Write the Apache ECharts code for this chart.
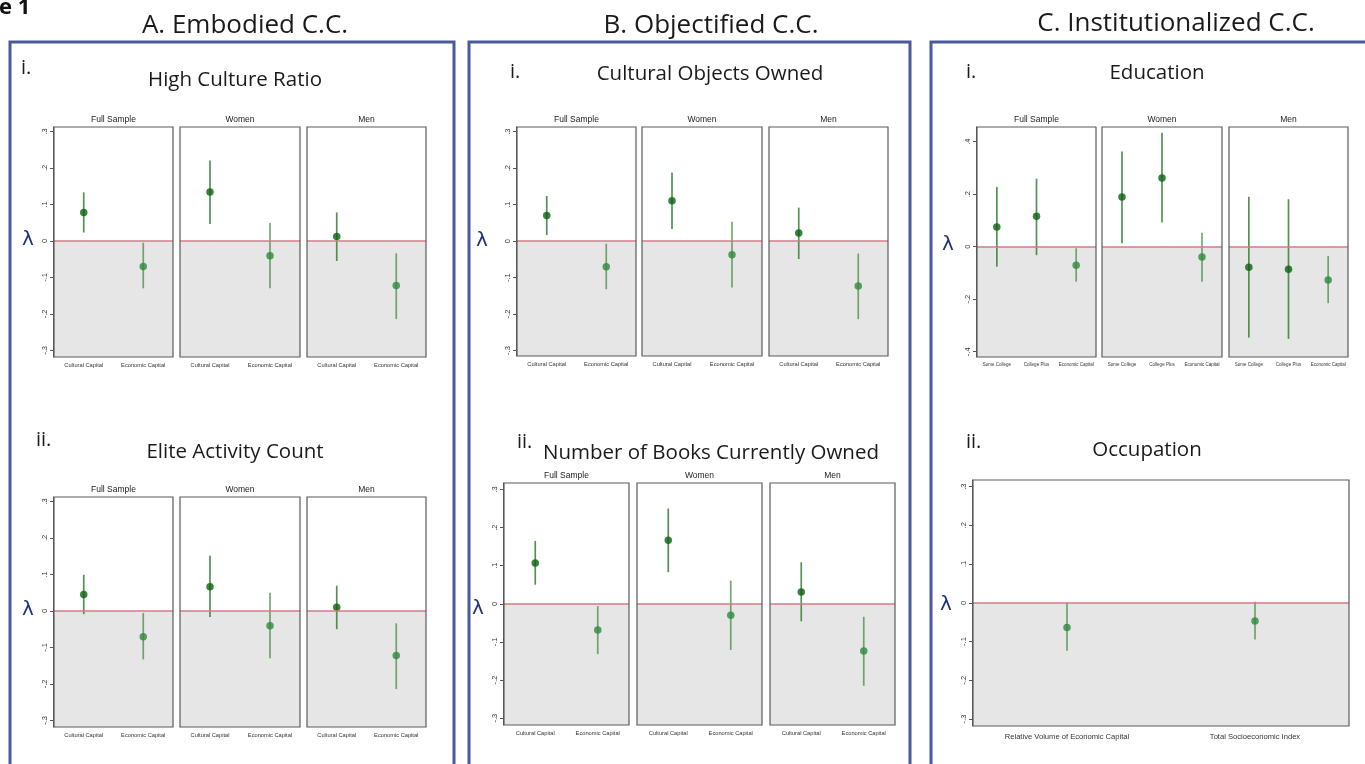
<!DOCTYPE html>
<html>
<head>
<meta charset="utf-8">
<script src="https://cdn.jsdelivr.net/npm/echarts@6/dist/echarts.min.js"></script>
<style>
html,body{margin:0;padding:0;background:#fff;}
#chart{width:1365px;height:764px;}
</style>
</head>
<body>
<div id="chart"></div>
<script>
// ---------------- DATA ----------------
const facets = ['Full Sample', 'Women', 'Men'];
const capCats = ['Cultural Capital', 'Economic Capital'];
const eduCats = ['Some College', 'College Plus', 'Economic Capital'];
const occCats = ['Relative Volume of Economic Capital', 'Total Socioeconomic Index'];

const ticks3 = [-0.3, -0.2, -0.1, 0, 0.1, 0.2, 0.3];
const ticks4 = [-0.4, -0.2, 0, 0.2, 0.4];

// A.i High Culture Ratio (per facet: estimate, lower CI, upper CI)
const hcrEst = [[0.078, -0.070], [0.134, -0.041], [0.012, -0.122]];
const hcrLo  = [[0.023, -0.130], [0.046, -0.130], [-0.055, -0.214]];
const hcrHi  = [[0.133, -0.005], [0.220, 0.049], [0.078, -0.034]];

// A.ii Elite Activity Count
const eacEst = [[0.045, -0.071], [0.066, -0.041], [0.010, -0.122]];
const eacLo  = [[-0.009, -0.133], [-0.017, -0.130], [-0.050, -0.214]];
const eacHi  = [[0.099, -0.006], [0.151, 0.050], [0.069, -0.034]];

// B.i Cultural Objects Owned
const cooEst = [[0.070, -0.070], [0.111, -0.037], [0.022, -0.123]];
const cooLo  = [[0.017, -0.132], [0.033, -0.127], [-0.049, -0.214]];
const cooHi  = [[0.124, -0.007], [0.188, 0.053], [0.092, -0.034]];

// B.ii Number of Books Currently Owned
const bookEst = [[0.107, -0.069], [0.167, -0.030], [0.031, -0.124]];
const bookLo  = [[0.050, -0.132], [0.083, -0.121], [-0.046, -0.215]];
const bookHi  = [[0.165, -0.006], [0.250, 0.061], [0.109, -0.034]];

// C.i Education
const eduEst = [[0.075, 0.116, -0.071], [0.189, 0.262, -0.039], [-0.078, -0.086, -0.127]];
const eduLo  = [[-0.076, -0.032, -0.133], [0.013, 0.092, -0.133], [-0.346, -0.351, -0.215]];
const eduHi  = [[0.228, 0.259, -0.006], [0.363, 0.434, 0.053], [0.190, 0.181, -0.035]];

// C.ii Occupation
const occEst = [-0.064, -0.047];
const occLo  = [-0.124, -0.095];
const occHi  = [0.000, 0.003];

// ---------------- LAYOUT ----------------
const rows = [
  {lefts:[54,180,307], widths:[119,120,119], top:127, height:230, min:-0.318, max:0.312, ticks:ticks3,
   cats:capCats, est:hcrEst, lo:hcrLo, hi:hcrHi, stripY:120, facets:facets, lam:[28,240], lbl:5.7, lblM:5},
  {lefts:[54,180,307], widths:[119,120,119], top:497, height:230, min:-0.318, max:0.312, ticks:ticks3,
   cats:capCats, est:eacEst, lo:eacLo, hi:eacHi, stripY:490, facets:facets, lam:[28,610], lbl:5.7, lblM:5},
  {lefts:[517,642,769], widths:[119,120,119], top:127, height:229, min:-0.315, max:0.313, ticks:ticks3,
   cats:capCats, est:cooEst, lo:cooLo, hi:cooHi, stripY:120, facets:facets, lam:[482,241], lbl:5.7, lblM:5},
  {lefts:[504,637,770], widths:[125,125,125], top:483, height:242, min:-0.318, max:0.317, ticks:ticks3,
   cats:capCats, est:bookEst, lo:bookLo, hi:bookHi, stripY:476, facets:facets, lam:[478,609], lbl:5.7, lblM:5},
  {lefts:[977,1102,1229], widths:[119,120,119], top:127, height:230, min:-0.42, max:0.456, ticks:ticks4,
   cats:eduCats, est:eduEst, lo:eduLo, hi:eduHi, stripY:120, facets:facets, lam:[948,245], lbl:4.5, lblM:5},
  {lefts:[973], widths:[376], top:480, height:246, min:-0.318, max:0.317, ticks:ticks3,
   cats:occCats, est:[occEst], lo:[occLo], hi:[occHi], stripY:null, facets:[''], lam:[946,605], lbl:7.6, lblM:7}
];

const texts = [
  ['A. Embodied C.C.', 245, 26, 26],
  ['B. Objectified C.C.', 711, 26, 26],
  ['C. Institutionalized C.C.', 1176, 24, 26],
  ['High Culture Ratio', 235, 80, 20.5],
  ['Elite Activity Count', 235, 452, 20.5],
  ['Cultural Objects Owned', 710, 74, 20.5],
  ['Number of Books Currently Owned', 711, 453, 20.5],
  ['Education', 1157, 73, 20.5],
  ['Occupation', 1147, 450, 20.5]
];
const romans = [['i.', 21, 68], ['ii.', 36, 440], ['i.', 510, 72], ['ii.', 517, 442], ['i.', 966, 72], ['ii.', 966, 442]];
const boxes = [[10, 42, 444], [469, 42, 441], [931, 42, 440]];

function fmt(v) {
  if (Math.abs(v) < 1e-9) return '0';
  const s = Math.abs(v).toFixed(1).replace(/^0/, '');
  return (v < 0 ? '-' : '') + s;
}

const grids = [], xAxes = [], yAxes = [], series = [], graphics = [];
let g = 0;
rows.forEach(row => {
  row.lefts.forEach((left, f) => {
    const w = row.widths[f];
    grids.push({left: left, top: row.top, width: w, height: row.height, show: true,
      backgroundColor: '#ffffff', borderWidth: 0, outerBoundsMode: 'none', containLabel: false});
    xAxes.push({type: 'category', gridIndex: g, data: row.cats, boundaryGap: true,
      axisLine: {show: false},
      axisTick: {show: true, alignWithLabel: true, length: 3, lineStyle: {color: '#555', width: 1}},
      axisLabel: {fontSize: row.lbl, margin: row.lblM, color: '#333', interval: 0, fontFamily: 'Liberation Sans'},
      splitLine: {show: false}});
    yAxes.push({type: 'value', gridIndex: g, min: row.min, max: row.max, show: f === 0,
      axisLine: {show: true, onZero: false, lineStyle: {color: '#555', width: 1}},
      axisTick: {show: true, length: 3, customValues: row.ticks, lineStyle: {color: '#555'}},
      axisLabel: {show: true, customValues: row.ticks, formatter: fmt, rotate: 90, fontSize: 7.5,
        margin: 4, color: '#333', fontFamily: 'Liberation Sans'},
      splitLine: {show: false}, offset: 1});
    // background shading + zero line
    series.push({type: 'line', xAxisIndex: g, yAxisIndex: g, data: [], z: 1, silent: true,
      markArea: {silent: true, itemStyle: {color: '#e6e6e6'}, data: [[{yAxis: 0}, {yAxis: row.min}]]},
      markLine: {silent: true, symbol: ['none', 'none'], label: {show: false},
        lineStyle: {color: '#d27b88', width: 1.5, type: 'solid'}, data: [{yAxis: 0}]}});
    const cats = row.cats;
    const ciData = cats.map((c, i) => [i, row.lo[f][i], row.hi[f][i]]);
    series.push({type: 'custom', xAxisIndex: g, yAxisIndex: g, z: 3, silent: true,
      data: ciData, encode: {x: 0, y: [1, 2]},
      renderItem: function (params, api) {
        const idx = api.value(0);
        const p1 = api.coord([idx, api.value(1)]);
        const p2 = api.coord([idx, api.value(2)]);
        const isEcon = /Economic/.test(cats[idx]) || row.lefts.length === 1;
        return {type: 'line', shape: {x1: p1[0], y1: p1[1], x2: p2[0], y2: p2[1]},
          style: {stroke: isEcon ? 'rgba(70,140,70,0.75)' : 'rgba(55,125,55,0.85)', lineWidth: 1.7}};
      }});
    series.push({type: 'scatter', xAxisIndex: g, yAxisIndex: g, z: 4, silent: true, symbolSize: 7.5,
      data: cats.map((c, i) => ({value: [i, row.est[f][i]],
        itemStyle: {color: (/Economic/.test(c) || row.lefts.length === 1) ? '#2e8a3c' : '#0b620f'}}))});
    // frame
    graphics.push({type: 'rect', shape: {x: left, y: row.top, width: w, height: row.height}, z: 100,
      style: {fill: null, stroke: '#5b5b5b', lineWidth: 1.2}});
    if (row.stripY !== null) {
      graphics.push({type: 'text', x: left + w / 2, y: row.stripY, z: 100,
        style: {text: row.facets[f], font: '8.5px "Liberation Sans"', fill: '#222', align: 'center', verticalAlign: 'middle'}});
    }
    g++;
  });
  graphics.push({type: 'text', x: row.lam[0], y: row.lam[1], z: 100,
    style: {text: 'λ', font: '20px "DejaVu Sans"', fill: '#1f2f7a', align: 'center', verticalAlign: 'middle'}});
});

texts.forEach(t => graphics.push({type: 'text', x: t[1], y: t[2], z: 100,
  style: {text: t[0], font: t[3] + 'px "Open Sans"', fill: '#1a1a1a', align: 'center', verticalAlign: 'middle'}}));
romans.forEach(t => graphics.push({type: 'text', x: t[1], y: t[2], z: 100,
  style: {text: t[0], font: '20px "Open Sans"', fill: '#1a1a1a', align: 'left', verticalAlign: 'middle'}}));
boxes.forEach(b => graphics.push({type: 'rect', shape: {x: b[0], y: b[1], width: b[2], height: 760}, z: 99,
  style: {fill: null, stroke: '#4b5a9c', lineWidth: 3}}));
graphics.push({type: 'text', x: -1, y: 8, z: 100,
  style: {text: 'e 1', font: 'bold 22px "Open Sans"', fill: '#111', align: 'left', verticalAlign: 'middle'}});

const chart = echarts.init(document.getElementById('chart'), null, {renderer: 'canvas'});
chart.setOption({
  animation: false,
  backgroundColor: '#ffffff',
  grid: grids, xAxis: xAxes, yAxis: yAxes, series: series,
  graphic: {elements: graphics}
});
</script>
</body>
</html>
